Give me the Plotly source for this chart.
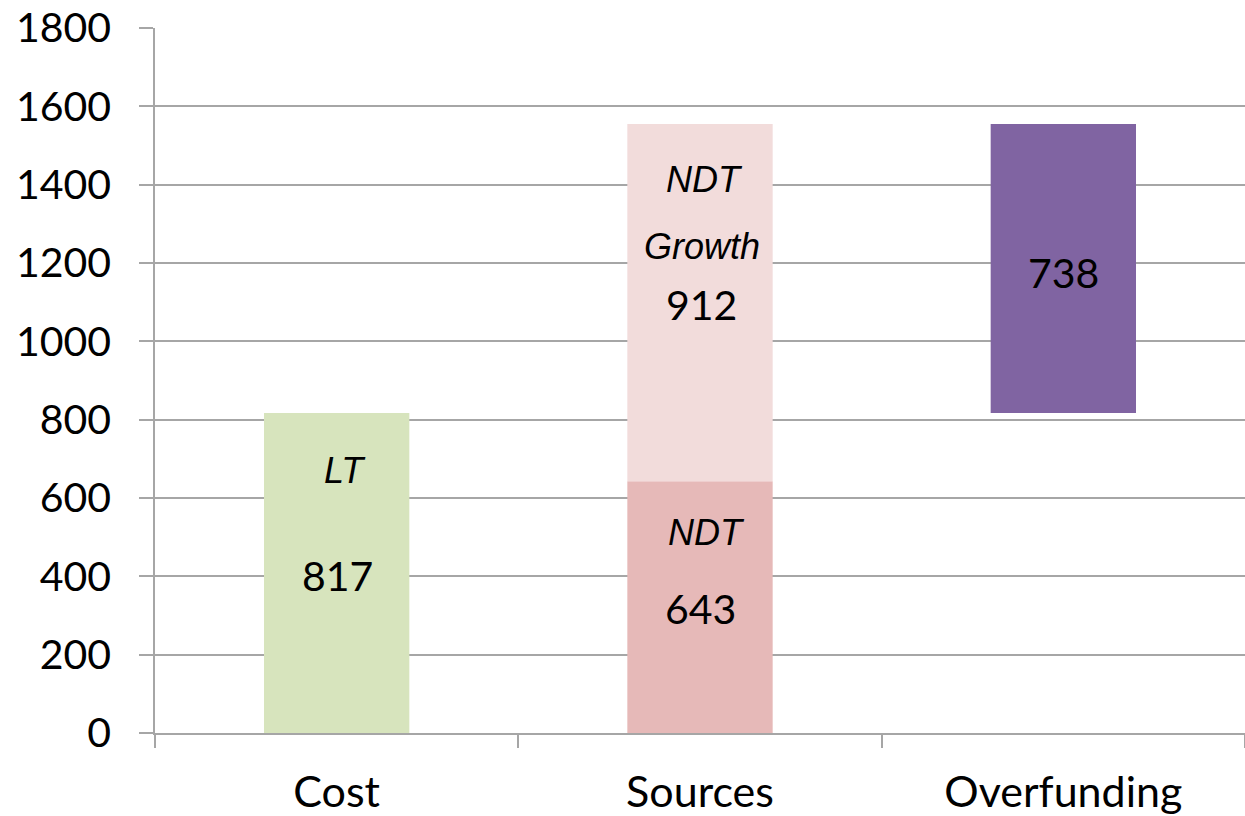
import plotly.graph_objects as go

categories = ["Cost", "Sources", "Overfunding"]
lt_cost = [817, None, None]
ndt = [None, 643, None]
ndt_growth = [None, 912, None]
overfunding = [None, None, 738]
y_ticks = [0, 200, 400, 600, 800, 1000, 1200, 1400, 1600, 1800]

C_LT = "#d7e4bd"
C_NDT = "#e6b9b8"
C_GROWTH = "#f2dcdb"
C_OVER = "#8064a2"

fig = go.Figure()
fig.add_trace(go.Bar(x=categories, y=lt_cost, base=[0, 0, 0], marker_color=C_LT,
                     marker_line_width=0, width=0.4, showlegend=False, hoverinfo="y"))
fig.add_trace(go.Bar(x=categories, y=ndt, base=[0, 0, 0], marker_color=C_NDT,
                     marker_line_width=0, width=0.4, showlegend=False, hoverinfo="y"))
growth_base = [0, ndt[1], 0]
fig.add_trace(go.Bar(x=categories, y=ndt_growth, base=growth_base, marker_color=C_GROWTH,
                     marker_line_width=0, width=0.4, showlegend=False, hoverinfo="y"))
over_base = [0, 0, lt_cost[0]]
fig.add_trace(go.Bar(x=categories, y=overfunding, base=over_base, marker_color=C_OVER,
                     marker_line_width=0, width=0.4, showlegend=False, hoverinfo="y"))

num_font = dict(family="Lato, 'Open Sans', sans-serif", size=41, color="#000000")
ital_font = dict(family="'Liberation Sans', Arial, sans-serif", size=36, color="#000000")

ann = [
    ("Cost", 671, "<i>LT</i>", ital_font, 8),
    ("Cost", 403, str(lt_cost[0]), num_font, 1),
    ("Sources", 513, "<i>NDT</i>", ital_font, 6),
    ("Sources", 319, str(ndt[1]), num_font, 0),
    ("Sources", 1412, "<i>NDT</i>", ital_font, 4),
    ("Sources", 1241, "<i>Growth</i>", ital_font, 2),
    ("Sources", 1093, str(ndt_growth[1]), num_font, 1),
    ("Overfunding", 1177, str(overfunding[2]), num_font, 0),
]
for x, y, t, f, dx in ann:
    fig.add_annotation(x=x, y=y, text=t, showarrow=False, font=f, xshift=dx,
                       xanchor="center", yanchor="middle")

fig.update_layout(
    width=1245, height=816,
    margin=dict(l=155, r=0, t=28, b=83),
    paper_bgcolor="white", plot_bgcolor="white",
    barmode="overlay", bargap=0.6,
    font=dict(family="Lato, 'Open Sans', sans-serif", color="#000000"),
)
fig.update_yaxes(
    range=[0, 1800], tickvals=y_ticks, ticktext=[str(v) for v in y_ticks],
    showgrid=True, gridcolor="#a6a6a6", gridwidth=1.5,
    showline=True, linecolor="#a6a6a6", linewidth=1.5,
    ticks="outside", ticklen=14, tickcolor="#a6a6a6", tickwidth=1.5,
    tickfont=dict(family="Lato, 'Open Sans', sans-serif", size=41, color="#000000"),
    ticklabelstandoff=20, zeroline=False,
)
fig.update_xaxes(
    range=[-0.5, 2.5], showline=True, linecolor="#a6a6a6", linewidth=1.5,
    ticks="outside", tickson="boundaries", ticklen=13, tickcolor="#a6a6a6", tickwidth=1.5,
    tickfont=dict(family="Lato, 'Open Sans', sans-serif", size=43, color="#000000"),
    ticklabelstandoff=21, showgrid=False,
)

fig.write_html("out.html")
